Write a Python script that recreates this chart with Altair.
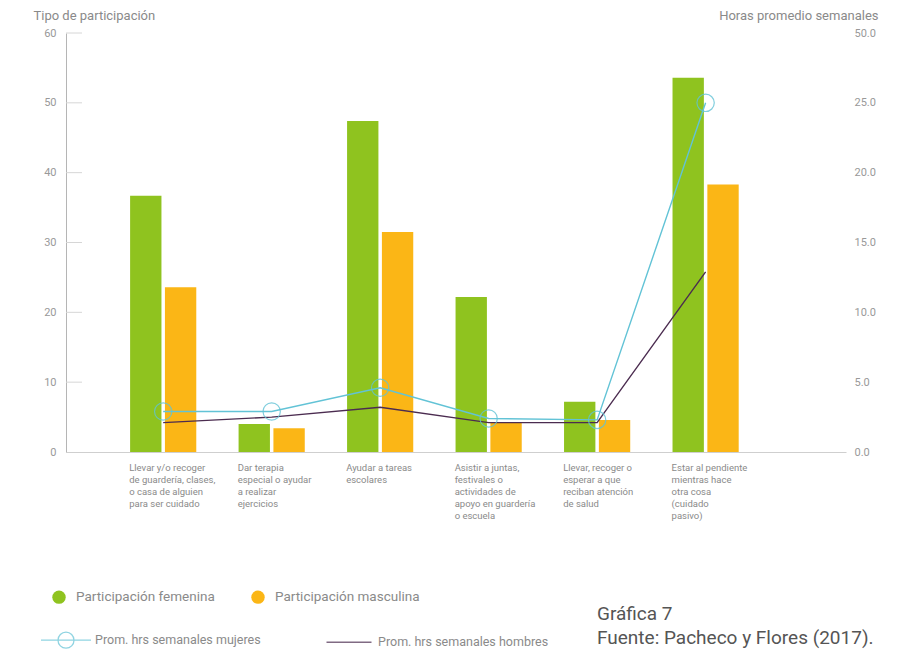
import altair as alt
import pandas as pd

# ---------------- data ----------------
categorias = [
    "Llevar y/o recoger|de guardería, clases,|o casa de alguien|para ser cuidado",
    "Dar terapia|especial o ayudar|a realizar|ejercicios",
    "Ayudar a tareas|escolares",
    "Asistir a juntas,|festivales o|actividades de|apoyo en guardería|o escuela",
    "Llevar, recoger o|esperar a que|reciban atención|de salud",
    "Estar al pendiente|mientras hace|otra cosa|(cuidado|pasivo)",
]
part_femenina = [36.7, 4.0, 47.4, 22.2, 7.2, 53.6]
part_masculina = [23.6, 3.4, 31.5, 4.2, 4.6, 38.3]
hrs_mujeres = [2.9, 2.9, 4.6, 2.4, 2.3, 25.0]
hrs_hombres = [2.1, 2.5, 3.2, 2.1, 2.1, 12.9]

series_barras = ["Participación femenina", "Participación masculina"]
series_lineas = ["Prom. hrs semanales mujeres", "Prom. hrs semanales hombres"]
ticks_izq = [0, 10, 20, 30, 40, 50, 60]
ticks_der = [0, 5, 10, 15, 20, 25, 30]

VERDE = "#8fc31f"
NARANJA = "#fbb616"
TURQUESA = "#62c3d6"
MORADO = "#4b2c50"
GRIS = "#8a8a8a"
FONT = "Roboto"

barras = pd.DataFrame({
    "categoria": categorias * 2,
    "serie": [series_barras[0]] * 6 + [series_barras[1]] * 6,
    "valor": part_femenina + part_masculina,
})
lineas = pd.DataFrame({
    "categoria": categorias * 2,
    "serie": [series_lineas[0]] * 6 + [series_lineas[1]] * 6,
    "horas": hrs_mujeres + hrs_hombres,
})
marcas = pd.DataFrame({"valor": ticks_izq[1:]})

# ---------------- encodings ----------------
x_enc = alt.X(
    "categoria:N",
    sort=categorias,
    scale=alt.Scale(domain=categorias, paddingInner=0.39, paddingOuter=0.79, align=0.374),
    axis=alt.Axis(
        title=None,
        labelExpr="split(datum.label, '|')",
        labelAngle=0,
        labelAlign="left",
        labelBaseline="top",
        labelOffset=-34,
        labelPadding=10,
        labelFontSize=9.5,
        labelColor=GRIS,
        labelLineHeight=12,
        labelOverlap=False,
        labelLimit=0,
        labelFont=FONT,
        ticks=False,
        domainColor="#cfcfcf",
        domainWidth=1,
        grid=False,
    ),
)

escala_izq = alt.Scale(domain=[0, 60], nice=False, zero=True)
escala_der = alt.Scale(domain=[0, 30], nice=False, zero=True)

eje_izq = alt.Axis(
    title="Tipo de participación",
    titleAngle=0,
    titleAlign="left",
    titleBaseline="middle",
    titleX=-33,
    titleY=-18,
    titleFontSize=13,
    titleFontWeight="normal",
    titleColor=GRIS,
    titleFont=FONT,
    values=ticks_izq,
    labelColor="#999999",
    labelFontSize=11,
    labelFont=FONT,
    labelPadding=10,
    ticks=False,
    grid=False,
    domainColor="#b5b5b5",
)

y_izq = alt.Y("valor:Q", scale=escala_izq, axis=eje_izq)

y_der = alt.Y(
    "horas:Q",
    scale=escala_der,
    axis=alt.Axis(
        orient="right",
        title="Horas promedio semanales",
        titleAngle=0,
        titleAlign="right",
        titleBaseline="middle",
        titleX=32,
        titleY=-18,
        titleFontSize=13,
        titleFontWeight="normal",
        titleColor=GRIS,
        titleFont=FONT,
        values=ticks_der,
        labelExpr="datum.value == 30 ? '50.0' : format(datum.value, '.1f')",
        labelColor="#999999",
        labelFontSize=11,
        labelFont=FONT,
        labelPadding=8,
        ticks=False,
        grid=False,
        domain=False,
    ),
)

leyenda_barras = alt.Legend(
    orient="none", legendX=-14, legendY=557, direction="horizontal", title=None,
    symbolType="circle", symbolSize=180, symbolStrokeWidth=0,
    labelFontSize=13.5, labelColor=GRIS, labelFont=FONT, labelOffset=10, labelLimit=0,
    columnPadding=36, padding=0,
)

forma_muj = "M-1,0H1M-0.32,0A0.32,0.32 0 1,1 0.32,0A0.32,0.32 0 1,1 -0.32,0"
forma_hom = "M-0.9,0H0.9"

leyenda_lineas = alt.Legend(
    orient="none", legendX=-26, legendY=581, direction="horizontal", title=None,
    symbolSize=2500, symbolStrokeWidth=1.3, symbolFillColor="transparent",
    labelFontSize=12.5, labelColor=GRIS, labelFont=FONT, labelOffset=3, labelLimit=0,
    columnPadding=62, padding=0,
)

# ---------------- layers ----------------
capa_barras = alt.Chart(barras).mark_bar().encode(
    x=x_enc,
    xOffset=alt.XOffset("serie:N", sort=series_barras,
                        scale=alt.Scale(domain=series_barras, paddingInner=0.1, paddingOuter=0)),
    y=y_izq,
    color=alt.Color("serie:N", scale=alt.Scale(domain=series_barras, range=[VERDE, NARANJA]),
                    legend=leyenda_barras),
)

marcas_izq = alt.Chart(marcas).mark_rule(color="#d6d6d6", strokeWidth=1).encode(
    y=y_izq,
    x=alt.value(0),
    x2=alt.value(16),
)

trazo = alt.Stroke("serie:N", scale=alt.Scale(domain=series_lineas, range=[TURQUESA, MORADO]),
                   legend=leyenda_lineas)

capa_lineas = alt.Chart(lineas).mark_line(strokeWidth=1.4).encode(
    x=x_enc,
    y=y_der,
    stroke=trazo,
    detail="serie:N",
)

capa_puntos = alt.Chart(lineas).transform_filter(
    alt.datum.serie == series_lineas[0]
).mark_point(filled=False, size=300, strokeWidth=1.2, shape="circle", opacity=0.8).encode(
    x=x_enc,
    y=y_der,
    stroke=alt.value(TURQUESA),
)

capa_leyenda = alt.Chart(lineas).transform_filter("false").mark_point(filled=False).encode(
    x=x_enc,
    y=y_der,
    stroke=trazo,
    shape=alt.Shape("serie:N", scale=alt.Scale(domain=series_lineas, range=[forma_muj, forma_hom]),
                    legend=leyenda_lineas),
)

izq = alt.layer(capa_barras, marcas_izq)
der = alt.layer(capa_lineas, capa_puntos, capa_leyenda)

chart = alt.layer(izq, der).resolve_scale(y="independent").properties(
    width=780,
    height=419,
    padding={"left": 58, "top": 25, "right": 40, "bottom": 200},
    autosize=alt.AutoSizeParams(type="none"),
    title=alt.TitleParams(
        text="Gráfica 7",
        subtitle="Fuente: Pacheco y Flores (2017).",
        orient="bottom",
        anchor="start",
        frame="group",
        dx=531,
        dy=-50,
        fontSize=19,
        subtitleFontSize=19,
        font=FONT,
        subtitleFont=FONT,
        fontWeight="normal",
        color="#555555",
        subtitleColor="#555555",
        subtitlePadding=5,
    ),
).configure(font=FONT, view=alt.ViewConfig(stroke=None))

chart.save("out.html", embed_options={"renderer": "svg", "actions": False})
